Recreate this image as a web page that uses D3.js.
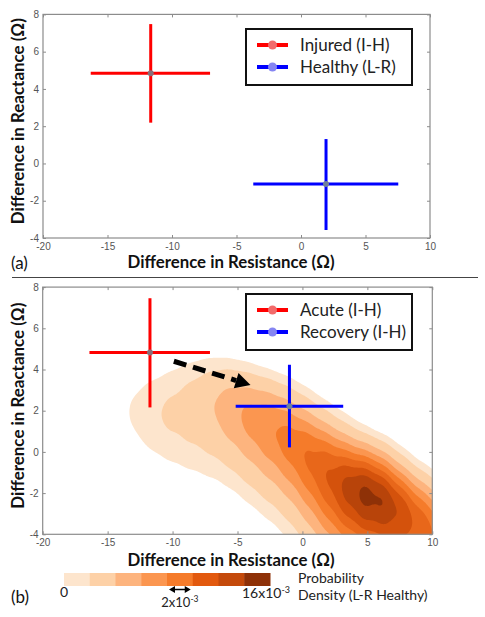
<!DOCTYPE html>
<html><head><meta charset="utf-8">
<script src="https://cdn.jsdelivr.net/npm/d3@7"></script>
<style>
body{margin:0;background:#fff}
svg{display:block}
</style>
</head><body>
<svg id="chart" width="485" height="617"></svg>
<script>
// ---------- data ----------
const xTickValues = [-20, -15, -10, -5, 0, 5, 10];
const yTickValues = [-4, -2, 0, 2, 4, 6, 8];

// panel (a)
const seriesA = ["Injured (I-H)", "Healthy (L-R)"];
const centerXA = [-11.65, 1.94];
const centerYA = [4.84, -1.10];
const xLowA = [-16.30, -3.70];
const xHighA = [-7.05, 7.54];
const yLowA = [2.19, -3.57];
const yHighA = [7.48, 1.31];

// panel (b)
const seriesB = ["Acute (I-H)", "Recovery (I-H)"];
const centerXB = [-11.74, -1.00];
const centerYB = [4.83, 2.21];
const xLowB = [-16.40, -5.14];
const xHighB = [-7.12, 3.14];
const yLowB = [2.16, 0.22];
const yHighB = [7.46, 4.23];

const arrowStart = [-9.9, 4.4];
const arrowEnd = [-4.0, 3.25];

// L-R healthy probability density (x10^-3 per Ω²) read on a grid
const densityGridX = [-14, -12.5, -11, -9.5, -8, -6.5, -5, -3.5, -2, -0.5, 1, 2.5, 4, 5.5, 7, 8.5, 10, 11.5];
const densityGridY = [5.0, 4.25, 3.5, 2.75, 2.0, 1.25, 0.5, -0.25, -1.0, -1.75, -2.5, -3.25, -4.0, -4.75, -5.5];
const densityGrid = [
  [0, 0, 0, 0.2, 0.3, 0.2, 0.05, 0, 0, 0, 0, 0, 0, 0, 0, 0, 0, 0],
  [0, 0.2, 0.35, 0.75, 1.05, 1.3, 0.85, 0.25, 0.1, 0, 0, 0, 0, 0, 0, 0, 0, 0],
  [0, 0.7, 1.0, 1.55, 2.2, 3.3, 3.3, 1.75, 1.0, 0.25, 0, 0, 0, 0, 0, 0, 0, 0],
  [0.6, 1.45, 1.83, 2.33, 2.9, 4.8, 6.25, 5.5, 3.95, 1.6, 0.3, 0.05, 0, 0, 0, 0, 0, 0],
  [0.7, 1.8, 2.3, 2.6, 2.95, 4.55, 6.45, 8.25, 7.9, 5.15, 1.69, 0.5, 0, 0, 0, 0, 0, 0],
  [0.5, 1.54, 2.11, 2.36, 2.72, 3.83, 5.59, 7.93, 9.16, 9.6, 5.4, 2.32, 0.44, 0, 0, 0, 0, 0],
  [0, 0.96, 1.56, 1.84, 2.12, 2.84, 4.25, 6.72, 8.42, 10.8, 10.5, 6.8, 2.6, 0.4, 0, 0, 0, 0],
  [0, 0.44, 0.92, 1.23, 1.46, 1.87, 2.84, 5.06, 6.91, 9.8, 12.5, 12.3, 9.0, 8.5, 0.6, 0, 0, 0],
  [0, 0.15, 0.44, 0.71, 0.90, 1.09, 1.67, 3.37, 5.09, 7.8, 11.8, 14.0, 15.5, 15.5, 6.5, 1.2, 0.1, 0],
  [0, 0, 0.16, 0.35, 0.5, 0.56, 0.86, 1.99, 3.35, 5.5, 10.0, 13.5, 17.5, 19.5, 14.0, 6.5, 2.0, 0.3],
  [0, 0, 0, 0.15, 0.24, 0.26, 0.39, 1.04, 1.97, 3.5, 7.7, 11.8, 16.5, 19.5, 17.0, 12.0, 7.0, 2.8],
  [0, 0, 0, 0, 0.1, 0.1, 0.16, 0.48, 1.04, 2.0, 5.3, 9.3, 13.5, 15.5, 15.5, 13.5, 10.5, 7.0],
  [0, 0, 0, 0, 0, 0, 0, 0.2, 0.49, 1.0, 3.3, 6.8, 10.0, 12.0, 12.5, 12.5, 11.5, 9.5],
  [0, 0, 0, 0, 0, 0, 0, 0, 0.2, 0.45, 1.9, 4.5, 6.5, 9.0, 9.5, 10.5, 10.5, 10.0],
  [0, 0, 0, 0, 0, 0, 0, 0, 0, 0.15, 0.9, 2.8, 3.5, 6.0, 7.0, 8.0, 8.5, 8.5]
];
const densityLevels = [1, 2, 4, 6, 8, 10, 12, 14, 16];        // x10^-3
const densityColors = ["#fde5cd", "#fdd1a7", "#fdb47e", "#fb9650", "#f57b2a", "#e8671a", "#d4520c", "#b8440a", "#8e3107"];
const colorbarColors = ["#fde5cd", "#fdd1a7", "#fdb47e", "#fb9650", "#f57b2a", "#e2590e", "#c44a0b", "#8e3107"];
const colorbarValues = [0, 2, 4, 6, 8, 10, 12, 14, 16];       // x10^-3

const redLine = "#ff0000", blueLine = "#0000ff";
const redMarker = "#f26b6b", blueMarker = "#8585f2";

// ---------- drawing ----------
const svg = d3.select("#chart");
const tickFont = "'Liberation Sans', Arial, sans-serif";
const labelFont = "Lato, 'Open Sans', sans-serif";
const smooth = d3.line().curve(d3.curveBasisClosed);

function panel(cfg) {
  const x = d3.scaleLinear().domain([-20, 10]).range([cfg.left, cfg.right]);
  const y = d3.scaleLinear().domain([-4, 8]).range([cfg.bottom, cfg.top]);
  const g = svg.append("g");
  const W = cfg.right - cfg.left, H = cfg.bottom - cfg.top;

  if (cfg.density) {
    const pad = 70;
    const cellArea = (densityGridX[1] - densityGridX[0]) * (densityGridY[0] - densityGridY[1]);
    const pts = [];
    densityGrid.forEach((row, j) => row.forEach((v, i) => {
      if (v > 0) pts.push({x: densityGridX[i], y: densityGridY[j], w: v * 1e-3 * cellArea});
    }));
    const pxArea = (x(1) - x(0)) * (y(0) - y(1));
    const dens = d3.contourDensity()
      .x(d => x(d.x) - cfg.left + pad)
      .y(d => y(d.y) - cfg.top + pad)
      .weight(d => d.w)
      .size([W + 2 * pad, H + 2 * pad])
      .cellSize(2)
      .bandwidth(15)
      .thresholds(densityLevels.map(t => t * 1e-3 / pxArea));
    const contours = dens(pts);
    svg.append("clipPath").attr("id", "clipB").append("rect")
      .attr("x", cfg.left).attr("y", cfg.top).attr("width", W).attr("height", H);
    g.append("g").attr("clip-path", "url(#clipB)")
      .append("g").attr("transform", `translate(${cfg.left - pad},${cfg.top - pad})`)
      .selectAll("path").data(contours).join("path")
      .attr("d", c => c.coordinates.map(poly => poly.map(ring => smooth(ring.slice(0, -1))).join("")).join(""))
      .attr("fill", (d, i) => densityColors[i])
      .attr("stroke", "none");
  }

  // frame
  g.append("rect").attr("x", cfg.left).attr("y", cfg.top)
    .attr("width", W).attr("height", H)
    .attr("fill", "none").attr("stroke", "#8c8c8c").attr("stroke-width", 1.2);

  // small ticks on all four sides
  const sides = [
    {axis: d3.axisBottom(x), t: `translate(0,${cfg.bottom})`, v: xTickValues},
    {axis: d3.axisTop(x), t: `translate(0,${cfg.top})`, v: xTickValues},
    {axis: d3.axisLeft(y), t: `translate(${cfg.left},0)`, v: yTickValues},
    {axis: d3.axisRight(y), t: `translate(${cfg.right},0)`, v: yTickValues}
  ];
  sides.forEach(s => {
    const ag = g.append("g").attr("transform", s.t)
      .call(s.axis.tickValues(s.v).tickSizeInner(-3).tickSizeOuter(0).tickFormat(""));
    ag.select(".domain").remove();
    ag.selectAll(".tick line").attr("stroke", "#8c8c8c");
  });

  // tick labels
  const xl = g.append("g").attr("transform", `translate(0,${cfg.bottom})`)
    .call(d3.axisBottom(x).tickValues(xTickValues).tickSize(0).tickPadding(cfg.xPad)
      .tickFormat(d => String(d)));
  const yl = g.append("g").attr("transform", `translate(${cfg.left},0)`)
    .call(d3.axisLeft(y).tickValues(yTickValues).tickSize(0).tickPadding(4)
      .tickFormat(d => String(d)));
  [xl, yl].forEach(ag => {
    ag.select(".domain").remove();
    ag.selectAll("text").attr("fill", "#555").style("font-family", tickFont).style("font-size", "10px");
  });

  // axis titles
  g.append("text").attr("x", 231).attr("y", cfg.bottom + cfg.titleOff)
    .attr("text-anchor", "middle").style("font-family", labelFont).style("font-weight", "bold")
    .style("font-size", "16.5px").attr("fill", "#111")
    .attr("textLength", 207).attr("lengthAdjust", "spacingAndGlyphs")
    .text("Difference in Resistance (Ω)");
  g.append("text").attr("transform", `translate(24,${(cfg.top + cfg.bottom) / 2 - 5}) rotate(-90)`)
    .attr("text-anchor", "middle").style("font-family", labelFont).style("font-weight", "bold")
    .style("font-size", "16.5px").attr("fill", "#111")
    .attr("textLength", 206).attr("lengthAdjust", "spacingAndGlyphs")
    .text("Difference in Reactance (Ω)");

  // arrow
  if (cfg.arrow) {
    const x0 = x(arrowStart[0]), y0 = y(arrowStart[1]);
    const x1 = x(arrowEnd[0]), y1 = y(arrowEnd[1]);
    const ang = Math.atan2(y1 - y0, x1 - x0);
    const hl = 15, hw = 8;
    const bx = x1 - hl * Math.cos(ang), by = y1 - hl * Math.sin(ang);
    g.append("line").attr("x1", x0).attr("y1", y0).attr("x2", bx).attr("y2", by)
      .attr("stroke", "#000").attr("stroke-width", 5).attr("stroke-dasharray", "13,7");
    g.append("path").attr("d", d3.line()([
      [x1, y1],
      [bx + hw * Math.sin(ang), by - hw * Math.cos(ang)],
      [bx - hw * Math.sin(ang), by + hw * Math.cos(ang)]
    ])).attr("fill", "#000");
  }

  // error bars
  const cols = [redLine, blueLine];
  const mcols = ["#8a6f7a", "#6f7f9a"];
  cfg.cx.forEach((cx, i) => {
    g.append("line").attr("x1", x(cfg.xl[i])).attr("x2", x(cfg.xh[i]))
      .attr("y1", y(cfg.cy[i])).attr("y2", y(cfg.cy[i]))
      .attr("stroke", cols[i]).attr("stroke-width", 3);
    g.append("line").attr("x1", x(cx)).attr("x2", x(cx))
      .attr("y1", y(cfg.yl[i])).attr("y2", y(cfg.yh[i]))
      .attr("stroke", cols[i]).attr("stroke-width", 3);
    g.append("circle").attr("cx", x(cx)).attr("cy", y(cfg.cy[i])).attr("r", 3)
      .attr("fill", mcols[i]);
  });

  // legend
  const lg = g.append("g");
  lg.append("rect").attr("x", 246).attr("y", cfg.legendTop).attr("width", 166).attr("height", 56)
    .attr("fill", "#fff").attr("stroke", "#111").attr("stroke-width", 2);
  cfg.names.forEach((n, i) => {
    const yy = cfg.legendTop + 16 + i * 22;
    lg.append("line").attr("x1", 257).attr("x2", 288).attr("y1", yy).attr("y2", yy)
      .attr("stroke", cols[i]).attr("stroke-width", 4);
    lg.append("circle").attr("cx", 272.5).attr("cy", yy).attr("r", 4.5)
      .attr("fill", i === 0 ? redMarker : blueMarker);
    lg.append("text").attr("x", 300).attr("y", yy + 6).style("font-family", labelFont)
      .style("font-size", "17px").attr("fill", "#222").text(n);
  });
}

panel({left: 43, right: 430, top: 14.4, bottom: 238, legendTop: 29, xPad: 4.5, titleOff: 30,
  names: seriesA, cx: centerXA, cy: centerYA, xl: xLowA, xh: xHighA, yl: yLowA, yh: yHighA});
panel({left: 42.7, right: 432.3, top: 287.1, bottom: 534.3, legendTop: 294, xPad: 5, titleOff: 32,
  density: true, arrow: true,
  names: seriesB, cx: centerXB, cy: centerYB, xl: xLowB, xh: xHighB, yl: yLowB, yh: yHighB});

// panel letters & separator
svg.append("text").attr("x", 11).attr("y", 269).style("font-family", labelFont)
  .style("font-size", "17px").attr("fill", "#111").text("(a)");
svg.append("line").attr("x1", 12).attr("x2", 478).attr("y1", 277.5).attr("y2", 277.5)
  .attr("stroke", "#444").attr("stroke-width", 1);
svg.append("text").attr("x", 11).attr("y", 603).style("font-family", labelFont)
  .style("font-size", "17px").attr("fill", "#111").text("(b)");

// colour bar
const cb = d3.scaleLinear().domain([0, 16]).range([64, 270]);
svg.append("g").selectAll("rect").data(colorbarColors).join("rect")
  .attr("x", (d, i) => cb(colorbarValues[i])).attr("y", 573)
  .attr("width", (d, i) => cb(colorbarValues[i + 1]) - cb(colorbarValues[i]) + 0.5)
  .attr("height", 13).attr("fill", d => d);
svg.append("text").attr("x", 64).attr("y", 597).attr("text-anchor", "middle")
  .style("font-family", labelFont).style("font-size", "14px").attr("fill", "#222").text("0");
const t16 = svg.append("text").attr("x", 290).attr("y", 598).attr("text-anchor", "end")
  .style("font-family", labelFont).style("font-size", "14px").attr("fill", "#222");
t16.append("tspan").text("16x10");
t16.append("tspan").attr("dy", -5).style("font-size", "9px").text("-3");
const t2 = svg.append("text").attr("x", cb(9)).attr("y", 607).attr("text-anchor", "middle")
  .style("font-family", labelFont).style("font-size", "13px").attr("fill", "#222");
t2.append("tspan").text("2x10");
t2.append("tspan").attr("dy", -5).style("font-size", "8.5px").text("-3");
// double arrow spanning 2x10^-3
const da = svg.append("g");
const ax0 = cb(8) + 2, ax1 = cb(10) - 2, ay = 589.5;
da.append("line").attr("x1", ax0 + 3).attr("x2", ax1 - 3).attr("y1", ay).attr("y2", ay)
  .attr("stroke", "#000").attr("stroke-width", 1.5);
da.append("path").attr("d", d3.line()([[ax0, ay], [ax0 + 6, ay - 3.5], [ax0 + 6, ay + 3.5]])).attr("fill", "#000");
da.append("path").attr("d", d3.line()([[ax1, ay], [ax1 - 6, ay - 3.5], [ax1 - 6, ay + 3.5]])).attr("fill", "#000");
svg.append("text").attr("x", 298).attr("y", 583).style("font-family", labelFont)
  .style("font-size", "14px").attr("fill", "#222").text("Probability");
svg.append("text").attr("x", 298).attr("y", 600).style("font-family", labelFont)
  .style("font-size", "14px").attr("fill", "#222").text("Density (L-R Healthy)");
</script>
</body></html>
